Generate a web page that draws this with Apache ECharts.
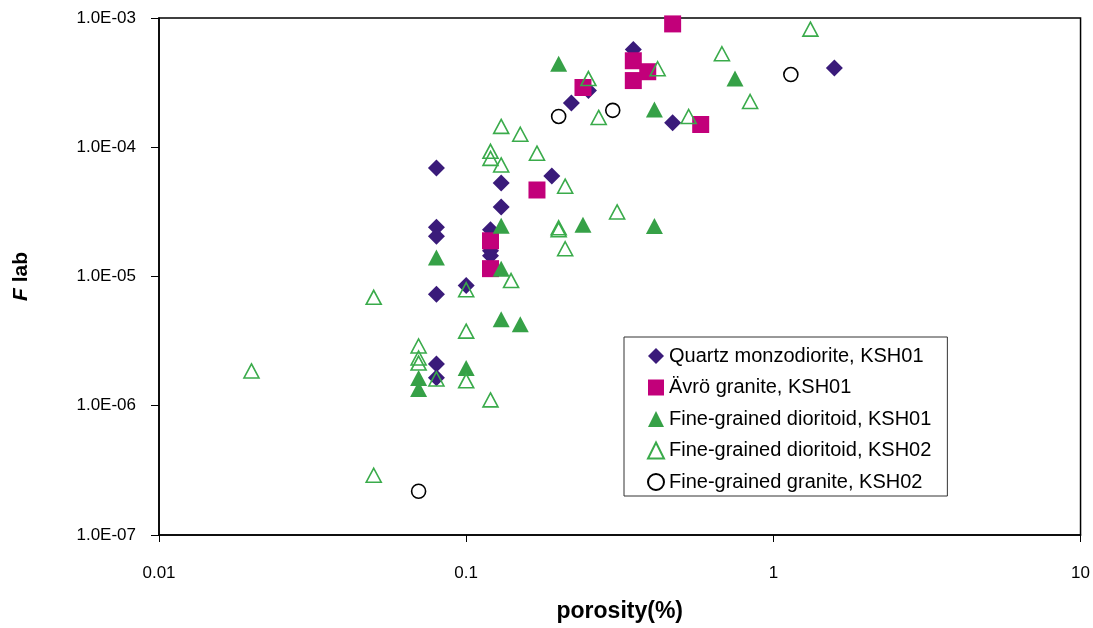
<!DOCTYPE html>
<html>
<head>
<meta charset="utf-8">
<script src="https://cdn.jsdelivr.net/npm/echarts@6/dist/echarts.min.js"></script>
<style>html,body{margin:0;padding:0;background:#fff}#c{width:1093px;height:628px}</style>
</head>
<body>
<div id="c"></div>
<script>
const seriesNames = [
  'Quartz monzodiorite, KSH01',
  'Ävrö granite, KSH01',
  'Fine-grained dioritoid, KSH01',
  'Fine-grained dioritoid, KSH02',
  'Fine-grained granite, KSH02'
];
const quartzMonzodioriteKSH01 = [
  [0.08, 6.9e-5], [0.08, 2.4e-5], [0.08, 2.05e-5], [0.08, 7.3e-6], [0.08, 2.1e-6], [0.08, 1.65e-6],
  [0.10, 8.5e-6], [0.13, 5.3e-5], [0.13, 3.45e-5], [0.12, 2.3e-5], [0.12, 1.58e-5], [0.12, 1.45e-5],
  [0.19, 6.0e-5], [0.22, 2.2e-4], [0.25, 2.75e-4], [0.35, 5.7e-4], [0.47, 1.55e-4], [1.58, 4.1e-4]
];
const avroGraniteKSH01 = [
  [0.12, 1.89e-5], [0.12, 1.15e-5], [0.17, 4.67e-5], [0.24, 2.9e-4], [0.35, 4.67e-4],
  [0.35, 3.28e-4], [0.39, 3.84e-4], [0.47, 9.0e-4], [0.58, 1.5e-4]
];
const dioritoidKSH01 = [
  [0.08, 1.4e-5], [0.13, 2.47e-5], [0.13, 1.15e-5], [0.20, 4.43e-4], [0.24, 2.51e-5],
  [0.41, 2.46e-5], [0.13, 4.67e-6], [0.15, 4.27e-6], [0.10, 1.96e-6], [0.07, 1.64e-6],
  [0.07, 1.35e-6], [0.41, 1.96e-4], [0.75, 3.4e-4]
];
const dioritoidKSH02 = [
  [0.02, 1.86e-6], [0.05, 6.9e-6], [0.05, 2.9e-7], [0.07, 2.9e-6], [0.07, 2.34e-6], [0.07, 2.14e-6],
  [0.08, 1.61e-6], [0.10, 7.9e-6], [0.10, 3.78e-6], [0.10, 1.56e-6], [0.12, 1.11e-6], [0.14, 9.3e-6],
  [0.12, 9.3e-5], [0.12, 8.2e-5], [0.13, 7.3e-5], [0.13, 1.45e-4], [0.15, 1.26e-4], [0.17, 9.0e-5],
  [0.21, 5.0e-5], [0.20, 2.38e-5], [0.20, 2.3e-5], [0.21, 1.64e-5], [0.31, 3.16e-5], [0.25, 3.4e-4],
  [0.27, 1.7e-4], [0.42, 4.05e-4], [0.53, 1.73e-4], [0.68, 5.29e-4], [0.84, 2.26e-4], [1.32, 8.2e-4]
];
const graniteKSH02 = [
  [0.20, 1.73e-4], [0.30, 1.93e-4], [1.14, 3.65e-4], [0.07, 2.18e-7]
];
const xTickLabels = ['0.01', '0.1', '1', '10'];
const yTickLabels = ['1.0E-07', '1.0E-06', '1.0E-05', '1.0E-04', '1.0E-03'];

const chart = echarts.init(document.getElementById('c'), null, {renderer: 'canvas'});
const font = '"Liberation Sans", Arial, sans-serif';
const purple = '#3a1b7a', magenta = '#c2007a', green = '#36a147';

chart.setOption({
  animation: false,
  backgroundColor: '#fff',
  textStyle: {fontFamily: font},
  grid: {left: 159, right: 10, top: 18, bottom: 90, show: true, borderColor: '#000', borderWidth: 1.5, backgroundColor: 'transparent'},
  xAxis: {
    type: 'log', logBase: 10, min: 0.01, max: 10,
    name: 'porosity(%)', nameLocation: 'middle', nameGap: 65,
    nameTextStyle: {fontFamily: font, fontSize: 23, fontWeight: 'bold', color: '#000'},
    axisLine: {show: true, lineStyle: {color: '#000', width: 1.5}},
    axisTick: {show: true, inside: false, length: 7, lineStyle: {color: '#000', width: 1}},
    minorTick: {show: false},
    splitLine: {show: false},
    axisLabel: {
      margin: 30, fontSize: 17, color: '#000', fontFamily: font,
      formatter: v => xTickLabels[Math.round(Math.log10(v)) + 2]
    }
  },
  yAxis: {
    type: 'log', logBase: 10, min: 1e-7, max: 1e-3,
    name: '{i|F} lab', nameLocation: 'middle', nameGap: 127, nameRotate: 90,
    nameTextStyle: {
      fontFamily: font, fontSize: 21, fontWeight: 'bold', color: '#000',
      rich: {i: {fontFamily: font, fontSize: 21, fontWeight: 'bold', fontStyle: 'italic', color: '#000'}}
    },
    axisLine: {show: true, lineStyle: {color: '#000', width: 1.5}},
    axisTick: {show: true, inside: false, length: 8, lineStyle: {color: '#000', width: 1}},
    splitLine: {show: false},
    axisLabel: {
      margin: 23, fontSize: 17, color: '#000', fontFamily: font,
      formatter: v => yTickLabels[Math.round(Math.log10(v)) + 7]
    }
  },
  legend: {
    orient: 'vertical', left: 624, top: 337,
    backgroundColor: '#fff', borderColor: '#333', borderWidth: 1,
    padding: [9, 16, 4, 23],
    itemWidth: 16, itemHeight: 16, itemGap: 11.5,
    textStyle: {fontFamily: font, fontSize: 20, color: '#000'},
    data: seriesNames
  },
  series: [
    {name: seriesNames[0], type: 'scatter', data: quartzMonzodioriteKSH01, symbol: 'diamond', symbolSize: 17,
     itemStyle: {color: purple, opacity: 1}},
    {name: seriesNames[1], type: 'scatter', data: avroGraniteKSH01, symbol: 'rect', symbolSize: 17,
     itemStyle: {color: magenta, opacity: 1}},
    {name: seriesNames[2], type: 'scatter', data: dioritoidKSH01, symbol: 'triangle', symbolSize: [17, 16],
     itemStyle: {color: green, opacity: 1}},
    {name: seriesNames[3], type: 'scatter', data: dioritoidKSH02, symbol: 'triangle', symbolSize: [15, 14],
     itemStyle: {color: 'rgba(255,255,255,0)', borderColor: '#3aab4b', borderWidth: 1.6, opacity: 1}},
    {name: seriesNames[4], type: 'scatter', data: graniteKSH02, symbol: 'circle', symbolSize: 14,
     itemStyle: {color: 'rgba(255,255,255,0)', borderColor: '#000', borderWidth: 1.6, opacity: 1}}
  ]
});
</script>
</body>
</html>
